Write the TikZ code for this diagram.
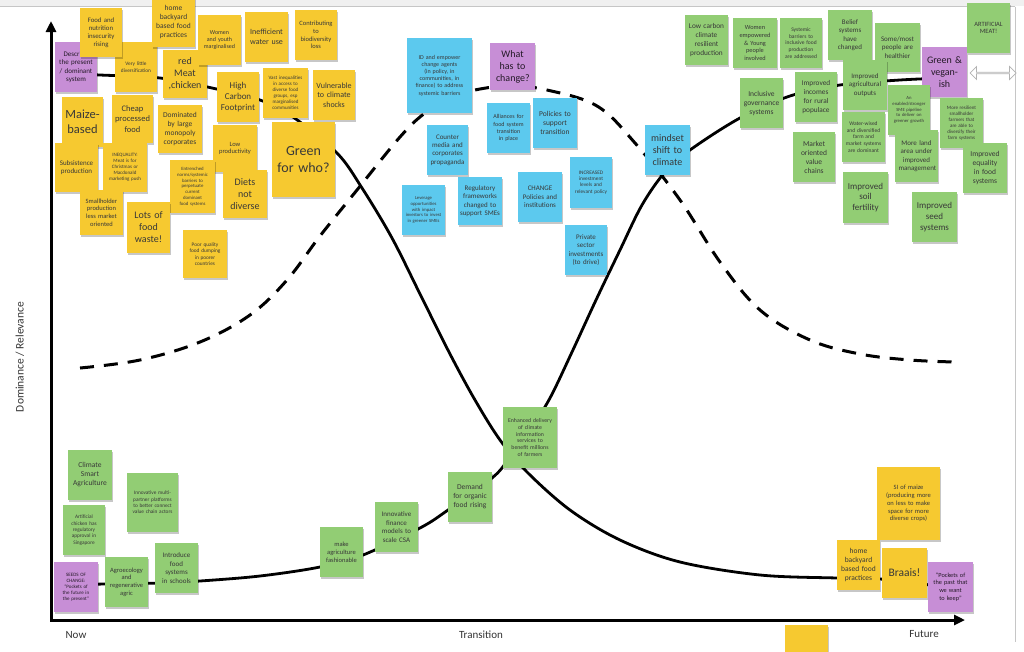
\documentclass[tikz,border=0pt]{standalone}
\usepackage{fontspec}
\setmainfont{Carlito}
\usetikzlibrary{arrows.meta,shadows,shapes.arrows}
\definecolor{yelc}{RGB}{246,201,48}
\definecolor{grnc}{RGB}{146,205,116}
\definecolor{bluc}{RGB}{92,201,238}
\definecolor{purc}{RGB}{199,142,214}
\newcommand\sticky[8]{%
  \pgfmathsetmacro\SNw{(#5)-(#3)}%
  \pgfmathsetmacro\SNh{(#6)-(#4)}%
  \pgfmathsetmacro\SNt{(#5)-(#3)-7}%
  \pgfmathsetmacro\SNx{((#3)+(#5))/2}%
  \pgfmathsetmacro\SNy{((#4)+(#6))/2}%
  \pgfmathsetmacro\SNb{(#7)*1.2}%
  \node[minimum width=\SNw pt, minimum height=\SNh pt, text width=\SNt pt, font=\fontsize{#7}{\SNb}\selectfont, #2] (#1) at (\SNx,\SNy) {#8};%
}
\begin{document}
\begin{tikzpicture}[x=1pt,y=-1pt,
  note/.style={rectangle, inner xsep=1pt, inner ysep=1pt, align=center, text=black!78,
     execute at begin node={\hyphenpenalty=10000},
     drop shadow={shadow xshift=0.5pt, shadow yshift=-2pt, opacity=0.22, fill=black}},
  yel/.style={note, fill=yelc},
  grn/.style={note, fill=grnc},
  blu/.style={note, fill=bluc},
  pur/.style={note, fill=purc, text=black!70!purc!60!black},
  curve/.style={line width=2.8pt, black, line cap=round, line join=round},
  dcurve/.style={line width=3pt, black, dash pattern=on 14pt off 10pt},
  axis/.style={line width=3pt, black, line join=miter},
  lab/.style={font=\fontsize{11}{13}\selectfont, text=black!80},
]
\useasboundingbox (0,0) rectangle (1024,651);
\fill[white] (0,0) rectangle (1024,651);
% frame of the board
\fill[gray!12] (0,0) rectangle (1024,6);
\draw[gray!45, line width=0.6pt] (0,6.5) -- (1015,6.5);
\draw[gray!45, line width=0.8pt] (1015,6.5) -- (1015,642);

% axes
\coordinate (O) at (51,620);
\coordinate (ytip) at (51,21);
\coordinate (xtip) at (965,620);
\draw[axis, {Triangle[length=11pt,width=10pt]}-{Triangle[length=11pt,width=10pt]}] (ytip) -- (O) -- (xtip);
\node[lab] (now) at (76,635) {Now};
\node[lab] (trans) at (481,635) {Transition};
\node[lab] (fut) at (924,634) {Future};
\node[lab, rotate=90, font=\fontsize{11.5}{13}\selectfont] (ylab) at (20,357) {Dominance / Relevance};

% dashed curve (transition)
\draw[dcurve] plot[smooth, tension=0.6] coordinates {(80,368) (140,360) (200,342) (250,315) (287,280) (320,236) (357,190) (400,137) (425,113) (452,97) (480,89) (512,86) (547,90) (597,106) (635,143) (680,200) (720,262) (760,310) (810,340) (860,354) (910,360) (955,362)};
% declining solid curve
\draw[curve] plot[smooth, tension=0.55] coordinates {(58,73) (100,75) (160,78) (212,88) (260,100) (293,117) (337,153) (362,188) (392,238) (421,296) (450,354) (475,400) (500,440) (527,472) (570,510) (620,540) (680,562) (760,575) (837,578) (880,579) (930,585) (950,588)};
% rising solid curve
\draw[curve] plot[smooth, tension=0.55] coordinates {(60,585) (105,584) (160,583) (200,581) (260,576) (320,567) (363,555) (420,528) (448,510) (492,478) (508,460) (530,430) (550,398) (572,352) (596,300) (620,250) (642,205) (665,172) (690,150) (740,118) (790,96) (840,85) (900,80) (945,78)};

% ---- dominant system (yellow) ----
\sticky{desc}{pur}{55}{42}{97}{92}{7}{Describe the present / dominant system}
\sticky{vlit}{yel, text width=38pt}{115}{42}{157}{92}{5.3}{Very little diversification}
\sticky{food}{yel}{80}{8}{122}{57}{6.8}{Food and nutrition insecurity rising}
\sticky{homeA}{yel}{152}{-4}{195}{47}{7.5}{home backyard based food practices}
\sticky{meat}{yel}{163}{50}{207}{98}{10}{red Meat ,chicken}
\sticky{women}{yel}{198}{15}{241}{65}{6}{Women and youth marginalised}
\sticky{water}{yel}{245}{12}{288}{62}{8}{Inefficient water use}
\sticky{biod}{yel}{295}{10}{337}{60}{6.5}{Contributing to biodiversity loss}
\sticky{carbon}{yel, text width=39pt}{217}{72}{259}{122}{9}{High Carbon Footprint}
\sticky{vast}{yel}{263}{68}{308}{118}{5}{Vast inequalities in access to diverse food groups, esp marginalised communities}
\sticky{vuln}{yel, text width=38pt}{313}{70}{355}{120}{8}{Vulnerable to climate shocks}
\sticky{maize}{yel, text width=39pt}{62}{97}{103}{147}{12.5}{Maize-\\based}
\sticky{cheap}{yel, text width=38pt}{112}{95}{153}{143}{8.5}{Cheap processed food}
\sticky{domin}{yel}{158}{105}{202}{153}{7.5}{Dominated by large monopoly corporates}
\sticky{lowp}{yel}{213}{125}{257}{172}{6.5}{Low productivity}
\sticky{gfw}{yel}{272}{122}{335}{197}{14}{Green for who?}
\sticky{diets}{yel}{223}{170}{267}{218}{10}{Diets not diverse}
\sticky{entr}{yel, text width=34pt}{170}{160}{215}{213}{4.8}{Entrenched norms/systemic barriers to perpetuate current dominant food systems}
\sticky{poor}{yel, text width=32pt}{183}{230}{227}{278}{5.3}{Poor quality food dumping in poorer countries}
\sticky{subs}{yel}{55}{143}{98}{192}{7}{Subsistence production}
\sticky{ineq}{yel, text width=32pt}{103}{143}{147}{192}{5}{INEQUALITY: Meat is for Christmas or Macdonald marketing push}
\sticky{small}{yel, text width=34pt}{80}{190}{123}{235}{6.5}{Smallholder production less market oriented}
\sticky{waste}{yel}{127}{202}{170}{253}{10}{Lots of food waste!}

% ---- what has to change (blue) ----
\sticky{idemp}{blu, text width=50pt}{407}{38}{472}{113}{6}{ID and empower change agents (in policy, in communities, in finance) to address systemic barriers}
\sticky{what}{pur, text width=33pt}{490}{43}{535}{90}{10}{What has to change?}
\sticky{alli}{blu}{487}{103}{530}{153}{6}{Alliances for food system transition in place}
\sticky{poli}{blu, text width=39pt}{533}{98}{577}{148}{7.5}{Policies to support transition}
\sticky{count}{blu}{427}{125}{468}{175}{7}{Counter media and corporates propaganda}
\sticky{lev}{blu, text width=38pt}{402}{185}{445}{235}{4.7}{Leverage opportunities with impact investors to invest in greener SMEs}
\sticky{reg}{blu, text width=40pt}{458}{177}{502}{225}{7}{Regulatory frameworks changed to support SMEs}
\sticky{chg}{blu, text width=38pt}{518}{172}{562}{222}{7}{CHANGE Policies and institutions}
\sticky{incr}{blu}{570}{157}{612}{208}{5.3}{INCREASED investment levels and relevant policy}
\sticky{priv}{blu}{565}{225}{607}{275}{7}{Private sector investments (to drive)}
\sticky{mind}{blu, text width=38pt}{645}{125}{690}{175}{10}{mindset shift to climate}

% ---- future (green) ----
\sticky{lowc}{grn, text width=40pt}{685}{15}{728}{65}{7.3}{Low carbon climate resilient production}
\sticky{wemp}{grn}{733}{18}{777}{68}{6.3}{Women empowered \& Young people involved}
\sticky{sysb}{grn}{780}{18}{822}{68}{5.5}{Systemic barriers to inclusive food production are addressed}
\sticky{incl}{grn}{740}{78}{783}{128}{7.5}{Inclusive governance systems}
\sticky{inco}{grn, text width=39pt}{795}{72}{837}{122}{7.3}{Improved incomes for rural populace}
\sticky{mark}{grn, text width=34pt}{793}{132}{835}{182}{7.5}{Market oriented value chains}
\sticky{beli}{grn, text width=33pt}{828}{10}{872}{60}{7}{Belief systems have changed}
\sticky{some}{grn}{875}{23}{920}{72}{7}{Some/most people are healthier}
\sticky{agri}{grn}{843}{60}{887}{110}{7}{Improved agricultural outputs}
\sticky{vegan}{pur}{922}{47}{967}{97}{10}{Green \&\\vegan-\\ish}
\sticky{art}{grn}{967}{3}{1010}{53}{6.5}{ARTIFICIAL MEAT!}
\sticky{sme}{grn, text width=38pt}{888}{85}{930}{135}{4.7}{An enabled/stronger SME pipeline to deliver on greener growth}
\sticky{resil}{grn, text width=38pt}{940}{98}{983}{148}{5}{More resilient smallholder farmers that are able to diversify their farm systems}
\sticky{wat}{grn, text width=38pt}{842}{112}{885}{162}{5.5}{Water-wised and diversified farm and market systems are dominant}
\sticky{land}{grn}{895}{130}{938}{182}{7}{More land area under improved management}
\sticky{equal}{grn}{963}{143}{1007}{193}{7.5}{Improved equality in food systems}
\sticky{soil}{grn, text width=38pt}{843}{172}{888}{223}{9}{Improved soil fertility}
\sticky{seed}{grn, text width=38pt}{912}{192}{957}{242}{9}{Improved seed systems}
\node[double arrow, draw=gray!60, fill=white, line width=0.7pt, minimum width=13pt, minimum height=46pt, double arrow head extend=2.5pt, inner sep=0pt] (darr) at (993,73) {};

% ---- seeds of change (green, bottom) ----
\sticky{csa}{grn}{68}{450}{112}{500}{7.5}{Climate Smart Agriculture}
\sticky{multi}{grn, text width=44pt}{127}{473}{178}{532}{5.3}{Innovative multi-partner platforms to better connect value chain actors}
\sticky{achk}{grn, text width=30pt}{63}{505}{105}{555}{5.3}{Artificial chicken has regulatory approval in Singapore}
\sticky{seeds}{pur}{54}{562}{98}{612}{5}{SEEDS OF CHANGE: ``Pockets of the future in the present''}
\sticky{agro}{grn}{105}{557}{148}{607}{6.5}{Agroecology and regenerative agric}
\sticky{intro}{grn, text width=34pt}{155}{543}{198}{593}{7}{Introduce food systems in schools}
\sticky{fash}{grn}{320}{527}{363}{577}{6.5}{make agriculture fashionable}
\sticky{fin}{grn, text width=34pt}{375}{502}{418}{552}{7}{Innovative finance models to scale CSA}
\sticky{dem}{grn}{448}{472}{492}{522}{7.5}{Demand for organic food rising}
\sticky{enh}{grn, text width=45pt}{503}{407}{557}{468}{5.8}{Enhanced delivery of climate information services to benefit millions of farmers}

% ---- pockets of the past (yellow, bottom right) ----
\sticky{si}{yel, text width=50pt}{877}{467}{940}{540}{6.5}{SI of maize (producing more on less to make space for more diverse crops)}
\sticky{homeB}{yel}{837}{540}{880}{590}{7.5}{home backyard based food practices}
\sticky{braai}{yel}{882}{548}{927}{598}{11.5}{Braais!}
\sticky{pock}{pur}{928}{562}{973}{612}{6.3}{``Pockets of the past that we want to keep''}
\sticky{part}{yel}{785}{625}{828}{654}{5}{}
\end{tikzpicture}
\end{document}
